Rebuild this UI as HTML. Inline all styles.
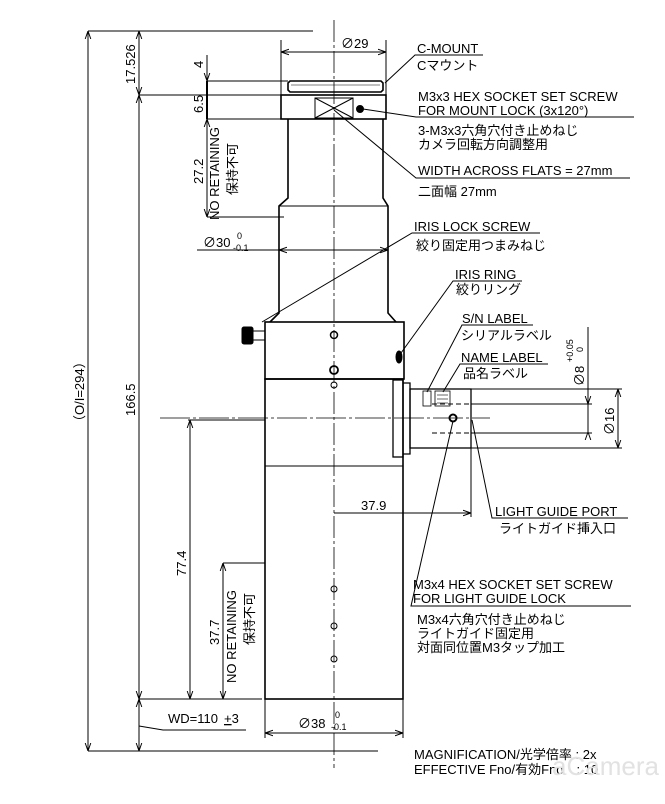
<!DOCTYPE html>
<html><head><meta charset="utf-8"><style>
body{margin:0;background:#fff}
svg{display:block}
text{font-family:"Liberation Sans","Noto Sans CJK JP",sans-serif;fill:#000}
</style></head><body>
<svg width="665" height="804" viewBox="0 0 665 804" xmlns="http://www.w3.org/2000/svg">
<defs>
<marker id="a" viewBox="0 0 10 10" refX="10" refY="5" markerWidth="8" markerHeight="8" orient="auto-start-reverse" markerUnits="userSpaceOnUse"><path d="M0,1.5 L10,5 L0,8.5" fill="none" stroke="#000" stroke-width="1.2"/></marker>
</defs>
<g stroke="#000" stroke-width="1" fill="none">
<line x1="334" y1="20" x2="334" y2="768" stroke-dasharray="22,3,3,3" stroke-width="0.8"/>
<line x1="160" y1="418" x2="490" y2="418" stroke-dasharray="30,3,3,3" stroke-width="0.8"/>
<path d="M290,81 H381 L383,83 V90 L381,92 H290 L288,90 V83 Z" stroke-width="1.6"/>
<line x1="291" y1="85" x2="380" y2="85" stroke-width="0.6"/>
<rect x="281" y="95" width="105" height="24" stroke-width="1.6"/>
<rect x="315" y="98" width="38" height="20"/>
<line x1="315" y1="98" x2="353" y2="118"/><line x1="353" y1="98" x2="315" y2="118"/>
<circle cx="360" cy="109" r="3.5" fill="#000"/>
<path d="M288,119 V198 L279,206 V313 L270,322 M383,119 V198 L388,206 V313 L396,322" stroke-width="1.6"/>
<line x1="279" y1="206" x2="388" y2="206"/>
<rect x="265" y="322" width="139" height="57" stroke-width="1.6"/>
<rect x="242" y="327" width="11" height="17" fill="#000" rx="2"/>
<rect x="253" y="331" width="12" height="9"/>
<ellipse cx="399" cy="357" rx="3" ry="6" fill="#000"/>
<circle cx="334" cy="335" r="3.5" stroke-width="1.5"/>
<circle cx="334" cy="370" r="4" stroke-width="1.8"/>
<circle cx="334" cy="385" r="3"/>
<rect x="265" y="379" width="138" height="320" stroke-width="1.6"/>
<line x1="265" y1="466" x2="403" y2="466"/>
<circle cx="334" cy="589" r="3"/><circle cx="334" cy="626" r="3"/><circle cx="334" cy="659" r="3"/>
<rect x="393" y="380" width="10" height="77" stroke-width="1.3"/>
<path d="M403,383 H410 V454 H403" stroke-width="1.3"/>
<rect x="410" y="389" width="61" height="59" stroke-width="1.3"/>
<rect x="423" y="391" width="8" height="15" stroke-width="0.8"/>
<rect x="435" y="391" width="15" height="15" stroke-width="0.8"/>
<line x1="437" y1="395" x2="448" y2="395" stroke-width="0.6"/><line x1="437" y1="399" x2="448" y2="399" stroke-width="0.6"/><line x1="437" y1="403" x2="448" y2="403" stroke-width="0.6"/>
<circle cx="453" cy="418" r="3.5" stroke-width="2"/>
<line x1="432" y1="404" x2="470" y2="404" stroke-dasharray="5,3"/>
<line x1="432" y1="433" x2="470" y2="433" stroke-dasharray="5,3"/>
<line x1="88" y1="31" x2="313" y2="31"/>
<line x1="139" y1="95" x2="281" y2="95"/>
<line x1="207" y1="81" x2="288" y2="81"/>
<line x1="207" y1="119" x2="281" y2="119"/>
<line x1="207" y1="217" x2="284" y2="217"/>
<line x1="188" y1="420" x2="265" y2="420"/>
<line x1="223" y1="563" x2="265" y2="563"/>
<line x1="139" y1="699" x2="262" y2="699"/>
<line x1="88" y1="751" x2="378" y2="751"/>
<line x1="281" y1="40" x2="281" y2="95"/><line x1="386" y1="40" x2="386" y2="95"/>
<line x1="265" y1="699" x2="265" y2="738"/><line x1="403" y1="699" x2="403" y2="738"/>
<line x1="471" y1="448" x2="471" y2="517"/>
<line x1="471" y1="389" x2="622" y2="389"/><line x1="471" y1="448" x2="622" y2="448"/>
<line x1="471" y1="404" x2="592" y2="404"/><line x1="471" y1="433" x2="592" y2="433"/>
<line x1="88" y1="31" x2="88" y2="751" marker-start="url(#a)" marker-end="url(#a)"/>
<line x1="139" y1="31" x2="139" y2="95" marker-start="url(#a)" marker-end="url(#a)"/>
<line x1="139" y1="95" x2="139" y2="699" marker-start="url(#a)" marker-end="url(#a)"/>
<line x1="139" y1="699" x2="139" y2="751" marker-start="url(#a)" marker-end="url(#a)"/>
<line x1="207" y1="55" x2="207" y2="81" marker-end="url(#a)"/>
<line x1="207" y1="81" x2="207" y2="119" stroke-width="2"/>
<line x1="207" y1="119" x2="207" y2="217" marker-start="url(#a)" marker-end="url(#a)"/>
<line x1="190" y1="420" x2="190" y2="699" marker-start="url(#a)" marker-end="url(#a)"/>
<line x1="223" y1="563" x2="223" y2="699" marker-start="url(#a)" marker-end="url(#a)"/>
<line x1="281" y1="52" x2="386" y2="52" marker-start="url(#a)" marker-end="url(#a)"/>
<line x1="197" y1="250" x2="279" y2="250"/>
<line x1="279" y1="250" x2="388" y2="250" marker-start="url(#a)" marker-end="url(#a)"/>
<line x1="265" y1="733" x2="403" y2="733" marker-start="url(#a)" marker-end="url(#a)"/>
<line x1="334" y1="513" x2="471" y2="513" marker-end="url(#a)"/>
<line x1="618" y1="389" x2="618" y2="448" marker-start="url(#a)" marker-end="url(#a)"/>
<line x1="588" y1="327" x2="588" y2="404" marker-end="url(#a)"/>
<line x1="588" y1="433" x2="588" y2="404"/>
<line x1="588" y1="433" x2="588" y2="432" marker-end="url(#a)"/>
<path d="M139,726 L163,730 H246"/>
<path d="M483,55 H415 L385,83"/>
<path d="M634,117 H416 L363,109"/>
<path d="M630,178 H416 L334,110"/>
<path d="M540,233 H412 L262,322"/>
<path d="M522,281 H453 L401,353"/>
<path d="M533,325 H462 L427,392"/>
<path d="M548,364 H460 L443,392"/>
<path d="M628,518 H492 L472,420"/>
<path d="M631,606 H411 L453,421"/>
</g>
<g font-size="13">
<text x="341" y="48">∅29</text>
<text x="203" y="247">∅30</text><text x="237" y="239" font-size="9">0</text><text x="233" y="251" font-size="9">-0.1</text>
<text x="298" y="728">∅38</text><text x="335" y="718" font-size="9">0</text><text x="331" y="730" font-size="9">-0.1</text>
<text x="168" y="723">WD=110</text><text x="224" y="723"><tspan text-decoration="underline">+</tspan>3</text>
<text x="361" y="510">37.9</text>
<text transform="translate(135,84) rotate(-90)">17.526</text>
<text transform="translate(203,68) rotate(-90)">4</text>
<text transform="translate(203,113) rotate(-90)">6.5</text>
<text transform="translate(203,184) rotate(-90)">27.2</text>
<text transform="translate(219,220) rotate(-90)">NO RETAINING</text>
<text transform="translate(237,195) rotate(-90)">保持不可</text>
<text transform="translate(135,416) rotate(-90)">166.5</text>
<text transform="translate(84,428) rotate(-90)">（O/I=294）</text>
<text transform="translate(186,576) rotate(-90)">77.4</text>
<text transform="translate(219,645) rotate(-90)">37.7</text>
<text transform="translate(236,683) rotate(-90)">NO RETAINING</text>
<text transform="translate(254,645) rotate(-90)">保持不可</text>
<text transform="translate(584,386) rotate(-90)">∅8</text>
<text transform="translate(573,362) rotate(-90)" font-size="9">+0.05</text>
<text transform="translate(583,352) rotate(-90)" font-size="9">0</text>
<text transform="translate(614,435) rotate(-90)">∅16</text>
<text x="417" y="53">C-MOUNT</text>
<text x="417" y="70">Cマウント</text>
<text x="418" y="101">M3x3 HEX SOCKET SET SCREW</text>
<text x="418" y="115">FOR MOUNT LOCK (3x120°)</text>
<text x="418" y="135">3-M3x3六角穴付き止めねじ</text>
<text x="418" y="149">カメラ回転方向調整用</text>
<text x="418" y="175">WIDTH ACROSS FLATS = 27mm</text>
<text x="418" y="196">二面幅 27mm</text>
<text x="414" y="231">IRIS LOCK SCREW</text>
<text x="416" y="250">絞り固定用つまみねじ</text>
<text x="455" y="279">IRIS RING</text>
<text x="456" y="294">絞りリング</text>
<text x="462" y="323">S/N LABEL</text>
<text x="461" y="340">シリアルラベル</text>
<text x="461" y="362">NAME LABEL</text>
<text x="463" y="378">品名ラベル</text>
<text x="495" y="516">LIGHT GUIDE PORT</text>
<text x="499" y="533">ライトガイド挿入口</text>
<text x="413" y="589">M3x4 HEX SOCKET SET SCREW</text>
<text x="413" y="603">FOR LIGHT GUIDE LOCK</text>
<text x="417" y="624">M3x4六角穴付き止めねじ</text>
<text x="417" y="638">ライトガイド固定用</text>
<text x="417" y="652">対面同位置M3タップ加工</text>
<text x="414" y="759">MAGNIFICATION/光学倍率 : 2x</text>
<text x="414" y="774">EFFECTIVE Fno/有効Fno　: 10</text>
</g>
<text x="552" y="775" font-size="26" style="fill:#e2e2e2">aCamera</text>
</svg>
</body></html>
